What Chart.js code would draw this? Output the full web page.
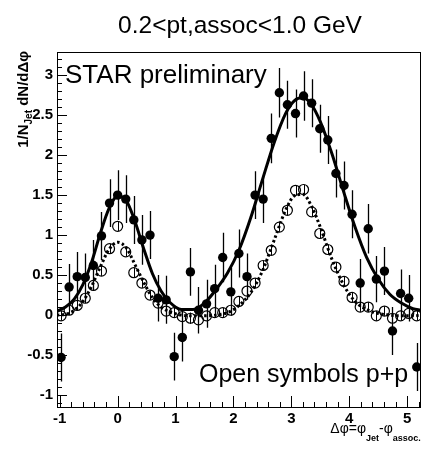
<!DOCTYPE html>
<html>
<head>
<meta charset="utf-8">
<title>Jet-hadron correlation</title>
<script src="https://cdn.jsdelivr.net/npm/chart.js@4.4.0/dist/chart.umd.min.js"></script>
<style>
  html, body { margin: 0; padding: 0; background: #fff; }
  #wrap { width: 427px; height: 449px; }
</style>
</head>
<body>
<div id="wrap"><canvas id="corrChart" width="427" height="449"></canvas></div>
<script>
/* ---- data ---- */
// bin centres in delta-phi (45 bins over 2pi)
const binCenters = [-0.977, -0.838, -0.698, -0.559, -0.419, -0.279, -0.140, 0.000, 0.140, 0.279,
    0.419, 0.559, 0.698, 0.838, 0.977, 1.117, 1.257, 1.396, 1.536, 1.676,
    1.815, 1.955, 2.094, 2.234, 2.374, 2.513, 2.653, 2.793, 2.932, 3.072,
    3.211, 3.351, 3.491, 3.630, 3.770, 3.910, 4.049, 4.189, 4.328, 4.468,
    4.608, 4.747, 4.887, 5.027, 5.166];

// filled symbols (Au+Au)
const auauValues = [-0.53, 0.35, 0.48, 0.47, 0.62, 0.99, 1.40, 1.50, 1.45, 1.19,
    0.94, 1.00, 0.21, 0.19, -0.52, -0.28, 0.54, 0.06, 0.14, 0.33,
    0.72, 0.29, 0.77, 0.48, 1.50, 1.45, 2.21, 2.78, 2.63, 2.52,
    2.74, 2.65, 2.33, 2.19, 1.77, 1.62, 1.26, 0.40, 1.08, 0.45,
    0.55, -0.20, 0.27, 0.21, -0.65];
const auauErrors = [0.30, 0.29, 0.31, 0.30, 0.32, 0.30, 0.30, 0.31, 0.30, 0.30,
    0.31, 0.30, 0.29, 0.30, 0.30, 0.30, 0.30, 0.29, 0.30, 0.30,
    0.31, 0.30, 0.30, 0.29, 0.30, 0.30, 0.31, 0.31, 0.30, 0.30,
    0.31, 0.30, 0.30, 0.30, 0.30, 0.30, 0.30, 0.30, 0.31, 0.29,
    0.30, 0.30, 0.30, 0.29, 0.30];

// open symbols (p+p)
const ppValues = [-0.01, 0.06, 0.12, 0.21, 0.37, 0.55, 0.83, 1.11, 0.79, 0.53,
    0.40, 0.25, 0.15, 0.05, 0.03, -0.02, -0.04, -0.06, -0.01, 0.03,
    0.03, 0.06, 0.17, 0.30, 0.40, 0.62, 0.81, 1.10, 1.31, 1.56,
    1.57, 1.29, 1.02, 0.82, 0.60, 0.42, 0.22, 0.10, 0.10, -0.01,
    0.05, -0.04, -0.01, 0.02, -0.01];
const ppErrors = [0.06, 0.06, 0.06, 0.06, 0.06, 0.06, 0.06, 0.06, 0.06, 0.06,
    0.06, 0.06, 0.06, 0.06, 0.06, 0.07, 0.07, 0.07, 0.06, 0.06,
    0.06, 0.06, 0.06, 0.06, 0.06, 0.06, 0.06, 0.06, 0.06, 0.06,
    0.06, 0.06, 0.06, 0.06, 0.06, 0.06, 0.06, 0.06, 0.06, 0.06,
    0.06, 0.06, 0.06, 0.06, 0.06];

// fit curves
const fitX = [-1.05, -0.9, -0.75, -0.6, -0.45, -0.3, -0.15, 0, 0.15, 0.3,
    0.45, 0.6, 0.75, 0.9, 1.1, 1.3, 1.5, 1.7, 1.9, 2.1,
    2.3, 2.5, 2.7, 2.9, 3.05, 3.2, 3.35, 3.5, 3.7, 3.9,
    4.1, 4.3, 4.5, 4.7, 4.9, 5.1, 5.24];
const auauFit = [0.05, 0.10, 0.20, 0.38, 0.66, 1.02, 1.33, 1.49, 1.43, 1.17,
    0.83, 0.52, 0.30, 0.16, 0.07, 0.07, 0.15, 0.32, 0.53, 0.82,
    1.22, 1.69, 2.15, 2.52, 2.68, 2.72, 2.63, 2.42, 2.02, 1.55,
    1.10, 0.72, 0.45, 0.26, 0.15, 0.08, 0.06];
const ppFit = [0.00, 0.01, 0.06, 0.17, 0.36, 0.60, 0.82, 0.91, 0.84, 0.63,
    0.41, 0.22, 0.10, 0.04, 0.00, -0.01, -0.01, 0.00, 0.03, 0.12,
    0.28, 0.55, 0.93, 1.31, 1.49, 1.51, 1.36, 1.10, 0.70, 0.38,
    0.17, 0.07, 0.02, 0.00, -0.01, -0.01, 0.00];

// axes
const xTicks = [-1, 0, 1, 2, 3, 4, 5];
const yTicks = [-1, -0.5, 0, 0.5, 1, 1.5, 2, 2.5, 3];
const X_MIN = -Math.PI / 3, X_MAX = 5 * Math.PI / 3;
const Y_MIN = -1.15, Y_MAX = 3.29;

const FONT = '"Liberation Sans", Arial, Helvetica, sans-serif';

const toPoints = (xs, ys) => xs.map((x, i) => ({ x, y: ys[i] }));

/* ---- error bars + ROOT-style frame, ticks and labels ---- */
const rootStyle = {
    id: 'rootStyle',
    beforeDatasetsDraw(chart) {
        const { ctx, chartArea: a, scales: { x, y } } = chart;
        ctx.save();
        ctx.beginPath();
        ctx.rect(a.left, a.top, a.right - a.left, a.bottom - a.top);
        ctx.clip();
        ctx.strokeStyle = '#000';
        chart.data.datasets.forEach(ds => {
            if (!ds.errorBars) return;
            ctx.lineWidth = ds.errorWidth || 1.2;
            ds.data.forEach((p, i) => {
                const e = ds.errorBars[i];
                const px = Math.round(x.getPixelForValue(p.x)) + 0.5;
                ctx.beginPath();
                ctx.moveTo(px, y.getPixelForValue(p.y - e));
                ctx.lineTo(px, y.getPixelForValue(p.y + e));
                ctx.stroke();
            });
        });
        ctx.restore();
    },
    afterDraw(chart) {
        const { ctx, chartArea: a, scales: { x, y } } = chart;
        ctx.save();
        ctx.strokeStyle = '#000';
        ctx.lineWidth = 1;

        // frame
        ctx.strokeRect(Math.round(a.left) + 0.5, Math.round(a.top) + 0.5,
            Math.round(a.right - a.left) - 1, Math.round(a.bottom - a.top));

        // y ticks: major every 0.5, minor every 0.1
        ctx.beginPath();
        for (let k = -11; k <= 32; k++) {
            const py = Math.round(y.getPixelForValue(k / 10)) + 0.5;
            const len = k % 5 === 0 ? 10 : 5;
            ctx.moveTo(a.left, py);
            ctx.lineTo(a.left + len, py);
        }
        // x ticks: major every 1, minor every 0.2
        for (let k = -5; k <= 26; k++) {
            const px = Math.round(x.getPixelForValue(k / 5)) + 0.5;
            const len = k % 5 === 0 ? 11 : 5;
            ctx.moveTo(px, a.bottom);
            ctx.lineTo(px, a.bottom - len);
        }
        ctx.stroke();

        ctx.fillStyle = '#000';
        ctx.textBaseline = 'alphabetic';

        // title
        ctx.font = `24.5px ${FONT}`;
        ctx.textAlign = 'center';
        ctx.fillText('0.2<pt,assoc<1.0 GeV', 240, 33);

        // in-plot labels
        ctx.textAlign = 'left';
        ctx.font = `26px ${FONT}`;
        ctx.fillText('STAR preliminary', 65, 83);
        ctx.font = `25px ${FONT}`;
        ctx.fillText('Open symbols p+p', 199, 382);

        // y title (rotated, with subscript)
        const yParts = [
            { t: '1/N', f: `bold 15px ${FONT}`, dy: 0 },
            { t: 'Jet', f: `bold 10px ${FONT}`, dy: 5 },
            { t: ' dN/d\u0394\u03c6', f: `bold 15px ${FONT}`, dy: 0 }
        ];
        drawParts(ctx, yParts, 24, a.top - 1, true);

        // x title
        const xParts = [
            { t: '\u0394\u03c6=\u03c6', f: `14px ${FONT}`, dy: 0 },
            { t: 'Jet', f: `bold 9px ${FONT}`, dy: 8 },
            { t: '-\u03c6', f: `14px ${FONT}`, dy: 0 },
            { t: 'assoc.', f: `bold 9px ${FONT}`, dy: 8 }
        ];
        drawParts(ctx, xParts, 433, a.right, false);

        ctx.restore();
    }
};

// draws a run of text pieces ending at `end`; vertical=true runs bottom-to-top
function drawParts(ctx, parts, cross, end, vertical) {
    let total = 0;
    parts.forEach(p => { ctx.font = p.f; p.w = ctx.measureText(p.t).width; total += p.w; });
    ctx.save();
    if (vertical) {
        ctx.translate(cross, end + total);
        ctx.rotate(-Math.PI / 2);
        ctx.textBaseline = 'middle';
    } else {
        ctx.translate(end - total, cross);
        ctx.textBaseline = 'alphabetic';
    }
    ctx.textAlign = 'left';
    let pos = 0;
    parts.forEach(p => {
        ctx.font = p.f;
        ctx.fillText(p.t, pos, p.dy);
        pos += p.w;
    });
    ctx.restore();
}

const ctx = document.getElementById('corrChart');
new Chart(ctx, {
    type: 'scatter',
    data: {
        datasets: [
            {
                label: 'Au+Au',
                data: toPoints(binCenters, auauValues),
                errorBars: auauErrors,
                errorWidth: 1.3,
                pointRadius: 4.7,
                pointBackgroundColor: '#000',
                pointBorderWidth: 0,
                showLine: false
            },
            {
                label: 'p+p',
                data: toPoints(binCenters, ppValues),
                errorBars: ppErrors,
                errorWidth: 1,
                pointRadius: 5,
                pointBackgroundColor: 'rgba(0,0,0,0)',
                pointBorderColor: '#000',
                pointBorderWidth: 1.2,
                showLine: false
            },
            {
                label: 'Au+Au fit',
                type: 'line',
                data: toPoints(fitX, auauFit),
                borderColor: '#000',
                borderWidth: 3,
                pointRadius: 0,
                cubicInterpolationMode: 'monotone',
                fill: false
            },
            {
                label: 'p+p fit',
                type: 'line',
                data: toPoints(fitX, ppFit),
                borderColor: '#000',
                borderWidth: 3,
                borderDash: [2.5, 2.5],
                pointRadius: 0,
                cubicInterpolationMode: 'monotone',
                fill: false
            }
        ]
    },
    options: {
        responsive: false,
        animation: false,
        layout: { padding: { top: 52, right: 3, left: 0, bottom: 0 } },
        plugins: { legend: { display: false }, tooltip: { enabled: false } },
        scales: {
            x: {
                type: 'linear',
                min: X_MIN,
                max: X_MAX,
                afterBuildTicks: s => { s.ticks = xTicks.map(v => ({ value: v })); },
                afterFit: s => { s.height = 42; },
                grid: { display: false, drawTicks: false },
                border: { display: false },
                ticks: {
                    autoSkip: false,
                    maxRotation: 0,
                    padding: 3,
                    color: '#000',
                    font: { family: FONT, size: 15, weight: 'bold' },
                    callback: v => String(v)
                }
            },
            y: {
                type: 'linear',
                min: Y_MIN,
                max: Y_MAX,
                afterBuildTicks: s => { s.ticks = yTicks.map(v => ({ value: v })); },
                afterFit: s => { s.width = 57; },
                grid: { display: false, drawTicks: false },
                border: { display: false },
                ticks: {
                    autoSkip: false,
                    padding: 4,
                    color: '#000',
                    font: { family: FONT, size: 15, weight: 'bold' },
                    callback: v => String(v)
                }
            }
        }
    },
    plugins: [rootStyle]
});
</script>
</body>
</html>
